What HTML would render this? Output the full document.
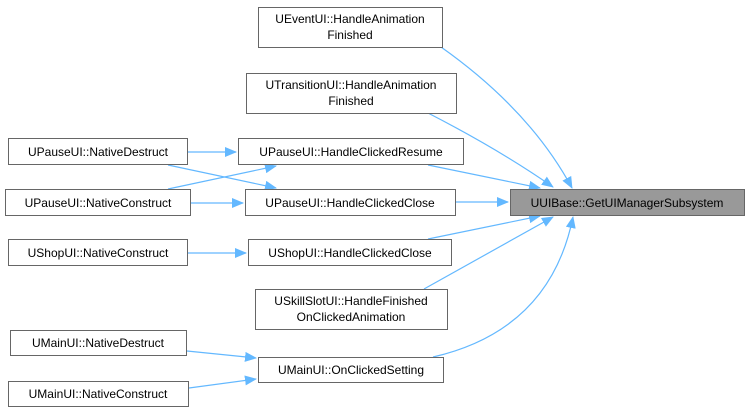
<!DOCTYPE html>
<html><head><style>
body{margin:0;background:#fff;}
svg text{font-family:"Liberation Sans",sans-serif;font-size:12px;fill:#000;}
</style></head><body>
<svg width="751" height="415" viewBox="0 0 751 415" xmlns="http://www.w3.org/2000/svg">
<defs><marker id="a" markerWidth="12" markerHeight="10" refX="11" refY="5" orient="auto" markerUnits="userSpaceOnUse"><path d="M0,0 L12,5 L0,10 z" fill="#63b8ff"/></marker></defs>
<g stroke="#63b8ff" stroke-width="1.2" fill="none" marker-end="url(#a)">
<path d="M441,47 Q530,110 572,188"/>
<path d="M428,113 Q500,150 553,187"/>
<path d="M428,165 L540,188"/>
<path d="M455,202 L508,202"/>
<path d="M428,239 L540,216"/>
<path d="M424,289 L553,217"/>
<path d="M433,357 Q550,330 573,217"/>
<path d="M188,152 L236,152"/>
<path d="M190,203 L243,203"/>
<path d="M168,189 L276,166"/>
<path d="M168,165 L276,188"/>
<path d="M188,253 L246,253"/>
<path d="M187,351 L256,358"/>
<path d="M189,388 L256,379"/>
</g>
<g stroke="#666" stroke-width="1" fill="#fff">
<rect x="258.5" y="7.5" width="184" height="40"/>
<rect x="246.5" y="73.5" width="210" height="40"/>
<rect x="238.5" y="138.5" width="225" height="26"/>
<rect x="245.5" y="189.5" width="210" height="26"/>
<rect x="248.5" y="239.5" width="203" height="26"/>
<rect x="255.5" y="289.5" width="192" height="40"/>
<rect x="258.5" y="357.5" width="185" height="25"/>
<rect x="8.5" y="138.5" width="179" height="26"/>
<rect x="5.5" y="189.5" width="185" height="26"/>
<rect x="8.5" y="239.5" width="179" height="26"/>
<rect x="10.5" y="330.5" width="176" height="25"/>
<rect x="8.5" y="381.5" width="180" height="25"/>
<rect x="510.5" y="189.5" width="234" height="26" fill="#999"/>
</g>
<g text-anchor="middle">
<text x="350" y="23">UEventUI::HandleAnimation</text><text x="350" y="39">Finished</text>
<text x="351" y="89">UTransitionUI::HandleAnimation</text><text x="351" y="105">Finished</text>
<text x="351" y="156">UPauseUI::HandleClickedResume</text>
<text x="350" y="207">UPauseUI::HandleClickedClose</text>
<text x="350" y="257">UShopUI::HandleClickedClose</text>
<text x="351" y="305">USkillSlotUI::HandleFinished</text><text x="351" y="321">OnClickedAnimation</text>
<text x="351" y="374">UMainUI::OnClickedSetting</text>
<text x="98" y="156">UPauseUI::NativeDestruct</text>
<text x="98" y="207">UPauseUI::NativeConstruct</text>
<text x="98" y="257">UShopUI::NativeConstruct</text>
<text x="98" y="347">UMainUI::NativeDestruct</text>
<text x="98" y="398">UMainUI::NativeConstruct</text>
<text x="627" y="207">UUIBase::GetUIManagerSubsystem</text>
</g>
</svg>
</body></html>
